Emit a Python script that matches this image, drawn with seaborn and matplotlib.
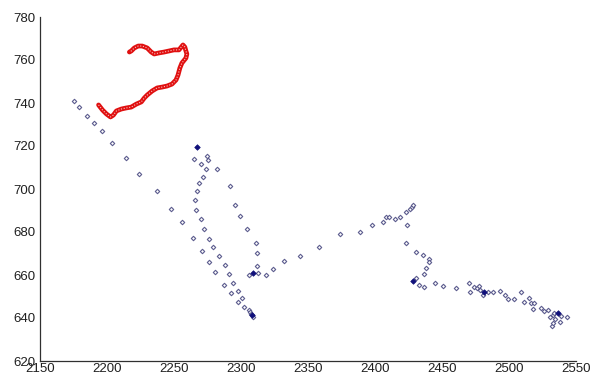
import numpy as np
import pandas as pd
import matplotlib
matplotlib.use('Agg')
import matplotlib.pyplot as plt
import seaborn as sns

# red trajectory
red_x = [2193.7, 2196.7, 2199.6, 2202.6, 2204.8, 2207.0, 2210.7, 2214.4, 2218.1, 2221.9,
         2225.6, 2227.8, 2230.0, 2233.7, 2237.4, 2241.1, 2244.8, 2248.5, 2251.5, 2253.0,
         2254.4, 2255.9, 2258.9, 2259.6, 2258.9, 2258.1, 2256.7, 2253.7, 2250.0, 2246.3,
         2242.6, 2238.9, 2235.2, 2233.0, 2230.0, 2226.3, 2223.3, 2220.4, 2218.1, 2216.7]
red_y = [739.1, 736.7, 734.9, 733.5, 734.4, 736.3, 737.2, 737.7, 738.1, 739.5,
         740.5, 742.3, 743.7, 745.6, 747.0, 747.4, 747.9, 748.8, 750.7, 753.0,
         756.3, 758.6, 760.9, 762.8, 764.2, 766.0, 767.0, 764.7, 764.7, 764.2,
         763.7, 763.3, 762.8, 763.7, 765.6, 766.5, 766.5, 765.6, 764.2, 763.7]

# blue detections
blue_x = [2175.2, 2178.9, 2184.8, 2190.0, 2195.9, 2204.1, 2214.4, 2224.1, 2237.4, 2247.8,
          2255.9, 2264.1, 2270.7, 2275.9, 2280.4, 2287.0, 2292.2, 2297.4, 2302.6, 2305.6,
          2307.0, 2307.8, 2308.5, 2309.3,
          2264.8, 2270.0, 2274.4, 2275.2, 2273.7, 2281.9, 2271.5, 2268.5, 2267.0, 2265.6,
          2266.3, 2270.0, 2272.2, 2275.9, 2279.0, 2283.3, 2287.8, 2290.7, 2294.4, 2298.1,
          2301.1,
          2291.5, 2295.2, 2299.6, 2304.8, 2311.5, 2312.2, 2312.2, 2306.3, 2313.0, 2318.9,
          2324.1, 2332.2, 2344.1, 2358.1, 2373.7, 2388.5, 2398.1, 2406.3, 2408.5, 2410.7,
          2415.2, 2418.9, 2423.3, 2426.3, 2427.8, 2428.5, 2424.1, 2423.3, 2430.7, 2435.9,
          2440.4, 2440.4, 2438.1, 2436.7, 2430.7, 2433.0, 2436.7, 2444.8, 2450.7, 2460.4,
          2470.0, 2470.7, 2473.7, 2475.9, 2477.4, 2478.1, 2480.4, 2484.1, 2487.8, 2493.0,
          2496.7, 2499.6, 2504.1, 2509.3, 2511.5, 2515.2, 2516.7, 2518.9, 2518.1, 2524.1,
          2526.3, 2529.3, 2530.7, 2533.0, 2533.7, 2538.9, 2543.3, 2534.4, 2532.2, 2533.0,
          2538.1]
blue_y = [740.9, 738.1, 734.0, 730.7, 727.0, 721.4, 714.4, 707.0, 699.1, 690.7,
          684.7, 677.2, 671.2, 666.0, 661.4, 655.4, 651.6, 647.4, 645.1, 643.7,
          642.7, 641.8, 641.3, 640.5,
          714.0, 711.6, 715.3, 713.5, 709.3, 709.3, 705.6, 702.8, 699.1, 694.9,
          690.2, 686.0, 681.4, 676.7, 673.0, 668.8, 664.7, 660.5, 656.3, 652.6,
          649.3,
          701.4, 692.6, 687.4, 681.4, 674.9, 670.2, 664.2, 660.0, 660.9, 660.0,
          662.8, 666.5, 668.8, 673.0, 679.1, 680.0, 683.3, 684.7, 687.0, 687.0,
          686.0, 687.0, 689.3, 690.7, 691.6, 692.6, 683.3, 674.9, 670.7, 669.3,
          667.4, 666.0, 663.3, 660.5, 658.6, 655.4, 654.4, 656.3, 654.9, 653.9,
          656.3, 652.1, 654.4, 653.9, 654.9, 653.0, 650.7, 652.1, 652.1, 652.6,
          650.7, 648.8, 648.8, 652.1, 647.4, 649.3, 647.0, 647.0, 644.2, 644.7,
          643.3, 643.7, 640.5, 641.4, 642.3, 640.9, 640.5, 639.5, 636.3, 637.7,
          638.1]

# darker (overlapping) detections
dark_x = [2267.0, 2309.3, 2428.5, 2481.1, 2536.7, 2308.0]
dark_y = [719.5, 660.9, 657.2, 652.1, 642.3, 641.6]

sns.set_style('white')
plt.rcParams['font.family'] = ['Liberation Sans', 'DejaVu Sans']

fig = plt.figure(figsize=(5.92, 3.78), dpi=100)
ax = fig.add_axes([40 / 592, 17 / 378, 536 / 592, 344 / 378])

sns.lineplot(x=red_x, y=red_y, sort=False, estimator=None, color='#e01010',
             linewidth=3.4, ax=ax)
sns.lineplot(x=red_x, y=red_y, sort=False, estimator=None, color='#f7c0c0',
             linewidth=0.8, linestyle=(0, (1, 1.5)), ax=ax)
sns.scatterplot(x=blue_x, y=blue_y, marker='D', s=5, facecolor='white',
                edgecolor='#5c5c8e', linewidth=0.8, ax=ax)
sns.scatterplot(x=dark_x, y=dark_y, marker='D', s=8, color='#10107a',
                edgecolor='#10107a', linewidth=0.5, ax=ax)

ax.set_xlim(2150, 2550)
ax.set_ylim(620, 780)
ax.set_xticks(np.arange(2150, 2551, 50))
ax.set_yticks(np.arange(620, 781, 20))
sns.despine(ax=ax)
for s in ['left', 'bottom']:
    ax.spines[s].set_color('#303030')
    ax.spines[s].set_linewidth(0.9)
ax.tick_params(direction='in', length=4, width=0.9, color='#303030',
               labelsize=9.5, labelcolor='#202020', pad=1.5)
ax.tick_params(axis='y', pad=3)

fig.savefig('out.png', dpi=100)
